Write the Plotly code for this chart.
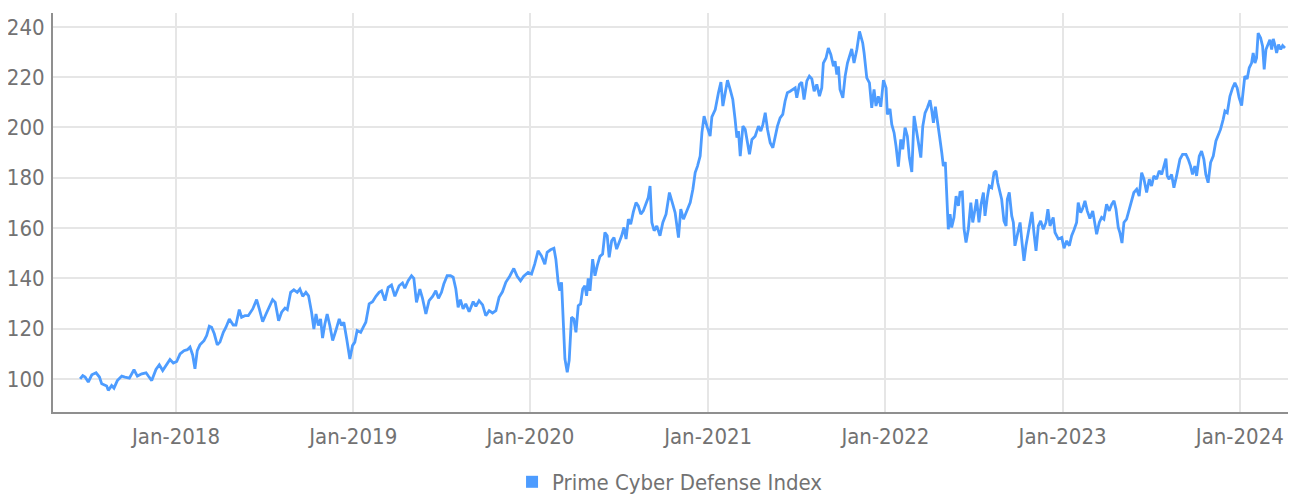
import numpy as np
import pandas as pd
import plotly.graph_objects as go

series_name = "Prime Cyber Defense Index"

# decimal-year positions
t_years = [
    2017.459, 2017.474, 2017.487, 2017.505, 2017.525, 2017.549, 2017.568, 2017.581, 2017.609, 2017.618,
    2017.637, 2017.650, 2017.669, 2017.694, 2017.712, 2017.737, 2017.763, 2017.782, 2017.807, 2017.831,
    2017.844, 2017.863, 2017.887, 2017.906, 2017.925, 2017.951, 2017.966, 2017.985, 2018.004, 2018.023,
    2018.045, 2018.064, 2018.079, 2018.094, 2018.107, 2018.120, 2018.135, 2018.158, 2018.173, 2018.188,
    2018.201, 2018.216, 2018.233, 2018.248, 2018.267, 2018.282, 2018.301, 2018.323, 2018.338, 2018.357,
    2018.370, 2018.389, 2018.408,
    2018.433, 2018.455, 2018.470, 2018.489, 2018.508, 2018.526, 2018.545, 2018.560, 2018.579, 2018.596,
    2018.615, 2018.628, 2018.647, 2018.665, 2018.684, 2018.699, 2018.715, 2018.733, 2018.748, 2018.765,
    2018.778, 2018.790, 2018.803, 2018.816, 2018.827, 2018.840, 2018.853, 2018.868, 2018.884, 2018.902,
    2018.921, 2018.934, 2018.947, 2018.963, 2018.976, 2018.981, 2018.996, 2019.009, 2019.022, 2019.042,
    2019.056, 2019.071, 2019.090, 2019.109, 2019.128, 2019.146, 2019.160, 2019.179, 2019.197, 2019.216,
    2019.235, 2019.259, 2019.278, 2019.291, 2019.310, 2019.329, 2019.342, 2019.357, 2019.376, 2019.391,
    2019.410, 2019.428, 2019.448, 2019.466, 2019.481, 2019.498, 2019.511, 2019.530, 2019.549,
    2019.564, 2019.579, 2019.592, 2019.605, 2019.620, 2019.635, 2019.654, 2019.677, 2019.692, 2019.710,
    2019.730, 2019.748, 2019.767, 2019.786, 2019.805, 2019.823, 2019.842, 2019.861, 2019.883, 2019.906,
    2019.925, 2019.944, 2019.962, 2019.987, 2020.006, 2020.024, 2020.043, 2020.062, 2020.081, 2020.094,
    2020.113, 2020.132, 2020.143, 2020.156, 2020.165, 2020.175, 2020.184, 2020.194, 2020.207, 2020.218,
    2020.231, 2020.244, 2020.256, 2020.269, 2020.282, 2020.294, 2020.306, 2020.316, 2020.325, 2020.335,
    2020.350, 2020.363, 2020.376, 2020.391, 2020.406, 2020.419, 2020.432, 2020.443, 2020.457, 2020.470,
    2020.485, 2020.500, 2020.513, 2020.526, 2020.538, 2020.551, 2020.564, 2020.579, 2020.594, 2020.607,
    2020.621, 2020.635, 2020.650, 2020.663, 2020.673,
    2020.683, 2020.696, 2020.711, 2020.729, 2020.745, 2020.763, 2020.782, 2020.801, 2020.814, 2020.833,
    2020.846, 2020.861, 2020.880, 2020.899, 2020.914, 2020.927, 2020.940, 2020.955, 2020.965, 2020.977,
    2020.993, 2021.011, 2021.021, 2021.040, 2021.058, 2021.072, 2021.083, 2021.096, 2021.109, 2021.124,
    2021.139, 2021.152, 2021.162, 2021.171, 2021.181, 2021.196, 2021.209, 2021.222, 2021.233, 2021.247,
    2021.265, 2021.284, 2021.297, 2021.309, 2021.322, 2021.335, 2021.350, 2021.365, 2021.378, 2021.391,
    2021.406, 2021.421, 2021.434, 2021.447, 2021.463, 2021.478, 2021.491, 2021.500, 2021.515, 2021.528,
    2021.541, 2021.557, 2021.571, 2021.585, 2021.598, 2021.613, 2021.628, 2021.641, 2021.650, 2021.665,
    2021.678, 2021.692, 2021.707, 2021.716, 2021.726, 2021.735, 2021.744, 2021.760, 2021.773, 2021.786,
    2021.797, 2021.810, 2021.823, 2021.839, 2021.854, 2021.872, 2021.880, 2021.895, 2021.910, 2021.923,
    2021.936, 2021.947, 2021.960, 2021.974, 2021.989, 2022.004, 2022.011, 2022.026, 2022.036, 2022.049,
    2022.060, 2022.073, 2022.087, 2022.098, 2022.111, 2022.124, 2022.135, 2022.149, 2022.162, 2022.173,
    2022.186, 2022.200, 2022.211, 2022.224, 2022.237, 2022.252, 2022.262, 2022.271, 2022.282, 2022.293,
    2022.305, 2022.318, 2022.327, 2022.338, 2022.346, 2022.355, 2022.365, 2022.374, 2022.387, 2022.399,
    2022.412, 2022.421, 2022.434, 2022.444, 2022.455, 2022.468, 2022.482, 2022.493, 2022.506, 2022.515,
    2022.528, 2022.540, 2022.553, 2022.562, 2022.575, 2022.586, 2022.600, 2022.613, 2022.624, 2022.634,
    2022.647, 2022.656, 2022.669, 2022.681, 2022.688, 2022.699, 2022.713, 2022.722, 2022.731, 2022.744,
    2022.760, 2022.771, 2022.782, 2022.793, 2022.806, 2022.816, 2022.827, 2022.838, 2022.850, 2022.863,
    2022.876, 2022.891, 2022.906, 2022.917,
    2022.929, 2022.947, 2022.957, 2022.976, 2022.995, 2023.008, 2023.023, 2023.038, 2023.051, 2023.064,
    2023.079, 2023.088, 2023.102, 2023.113, 2023.126, 2023.139, 2023.154, 2023.170, 2023.182, 2023.192,
    2023.207, 2023.220, 2023.233, 2023.248, 2023.263, 2023.277, 2023.290, 2023.301, 2023.314, 2023.323,
    2023.335, 2023.346, 2023.361, 2023.376, 2023.389, 2023.402, 2023.418, 2023.432, 2023.446, 2023.459,
    2023.474, 2023.489, 2023.502, 2023.515, 2023.530, 2023.545, 2023.559, 2023.572, 2023.583, 2023.590,
    2023.601, 2023.615, 2023.628, 2023.643, 2023.662, 2023.677, 2023.696, 2023.709, 2023.722, 2023.733,
    2023.746, 2023.756, 2023.771, 2023.784, 2023.797, 2023.808, 2023.821, 2023.835, 2023.850, 2023.865,
    2023.878, 2023.891, 2023.906, 2023.916, 2023.929, 2023.944, 2023.959, 2023.972, 2023.985, 2023.996,
    2024.010, 2024.019, 2024.028, 2024.041, 2024.053, 2024.066, 2024.075, 2024.085, 2024.094, 2024.103,
    2024.117, 2024.128, 2024.137, 2024.147, 2024.160, 2024.169, 2024.179, 2024.188, 2024.199, 2024.207,
    2024.218, 2024.230, 2024.241, 2024.254,
]

index_values = [
    100.0, 101.3, 100.7, 98.7, 101.6, 102.4, 100.7, 98.0, 97.1, 95.4,
    97.3, 96.3, 99.3, 101.1, 100.7, 100.3, 103.6, 101.1, 102.0, 102.4,
    101.1, 99.3, 103.7, 105.6, 103.3, 106.0, 107.7, 106.3, 106.9, 109.9,
    111.2, 111.6, 112.6, 109.5, 104.0, 111.2, 113.5, 115.2, 117.2, 120.9,
    120.5, 117.9, 113.5, 114.6, 118.5, 120.5, 123.8, 121.4, 121.4, 127.5,
    124.5, 125.1, 125.1,
    127.8, 131.5, 127.8, 122.7, 125.8, 128.4, 131.5, 130.4, 123.1, 126.5,
    128.1, 127.5, 134.4, 135.4, 134.4, 135.7, 132.8, 134.4, 133.0, 126.5,
    119.8, 125.8, 121.2, 123.8, 116.2, 121.8, 125.8, 121.2, 115.2, 119.2,
    123.8, 121.2, 122.5, 115.9, 109.2, 107.9, 113.2, 114.6, 119.2, 118.5,
    120.5, 122.5, 129.8, 130.7, 132.8, 134.4, 135.0, 131.1, 136.4, 137.3,
    132.8, 137.0, 138.1, 136.0, 139.0, 141.0, 140.0, 130.4, 135.7, 132.0,
    125.8, 131.1, 132.8, 135.0, 132.0, 134.4, 137.7, 141.0, 141.0,
    140.4, 135.7, 128.4, 131.5, 127.8, 129.8, 126.7, 130.7, 128.8, 131.1,
    129.4, 125.1, 127.1, 126.2, 127.1, 132.4, 134.6, 138.4, 140.8, 143.9,
    140.8, 139.0, 140.8, 142.3, 141.7, 145.6, 150.9, 148.9, 145.6, 150.3,
    151.3, 151.9, 147.6, 138.4, 135.0, 138.4, 125.1, 107.9, 102.6, 107.3,
    124.5, 123.8, 118.5, 129.1, 129.8, 135.7, 137.0, 133.0, 139.9, 135.0,
    147.6, 141.0, 145.0, 148.7, 149.6, 158.2, 156.9, 148.3, 154.9, 156.2,
    151.6, 154.2, 156.9, 160.2, 155.6, 163.5, 161.5, 166.4, 170.1, 168.8,
    165.5, 166.8, 170.1, 172.1, 176.7,
    162.2, 158.9, 160.8, 156.9, 162.2, 165.5, 174.1, 169.4, 166.1, 156.2,
    167.5, 163.5, 166.8, 170.1, 175.4, 182.0, 184.6, 188.6, 197.9, 204.5,
    200.5, 196.5, 204.2, 207.1, 213.8, 218.0, 208.5, 213.8, 218.8, 215.1,
    211.1, 203.2, 195.9, 198.5, 188.6, 200.5, 199.2, 193.9, 189.3, 195.2,
    196.5, 200.5, 198.5, 201.2, 205.8, 199.2, 193.9, 191.9, 196.5, 200.5,
    203.8, 205.2, 210.4, 213.8, 214.4, 215.1, 215.7, 211.8, 217.1, 218.0,
    211.1, 218.5, 220.4, 219.3, 214.4, 217.1, 212.4, 215.7, 225.6, 227.6,
    231.6, 229.0, 224.3, 226.3, 221.0, 224.3, 215.1, 211.8, 220.4, 225.6,
    228.3, 231.2, 225.6, 231.0, 238.2, 233.6, 229.6, 219.7, 217.7, 207.8,
    215.1, 208.5, 212.4, 208.2, 218.8, 215.7, 205.2, 207.4, 201.2, 197.9,
    192.6, 184.4, 195.2, 191.3, 199.9, 196.5, 188.0, 182.3, 204.5, 199.2,
    193.3, 188.0, 200.5, 205.8, 207.8, 210.8, 206.5, 201.8, 208.2, 201.8,
    196.8, 190.0, 184.6, 186.2, 175.4, 159.5, 165.5, 160.2, 164.2, 172.7,
    168.8, 174.1, 174.3, 159.5, 154.2, 159.5, 170.1, 162.2, 167.5, 171.4,
    162.2, 169.4, 174.1, 164.8, 172.1, 176.7, 176.0, 182.0, 182.7, 178.0,
    174.1, 171.4, 162.8, 160.8, 171.4, 174.1, 164.8, 162.2, 152.9, 156.9,
    162.2, 154.2, 146.9, 152.9, 158.2, 162.8, 166.4, 158.2, 150.9, 160.8,
    162.8, 159.5, 162.2, 167.5,
    160.8, 164.2, 158.2, 155.6, 156.2, 151.9, 154.9, 152.9, 156.9, 159.2,
    162.2, 170.1, 166.1, 167.7, 170.8, 166.8, 163.8, 166.8, 161.5, 157.5,
    162.2, 164.2, 163.5, 169.4, 166.8, 169.4, 170.8, 167.5, 160.2, 158.2,
    154.0, 162.2, 163.5, 167.5, 170.1, 174.1, 175.4, 172.7, 182.0, 179.4,
    174.1, 179.4, 176.7, 180.7, 179.4, 182.7, 181.3, 184.6, 187.6, 180.7,
    179.4, 181.3, 176.0, 180.7, 187.3, 189.3, 189.3, 187.3, 184.6, 181.3,
    184.6, 180.7, 188.6, 190.6, 187.3, 181.3, 178.0, 186.0, 188.6, 194.6,
    197.2, 199.2, 203.2, 206.5, 205.8, 212.4, 215.7, 217.7, 215.7, 211.8,
    208.7, 215.1, 220.4, 219.3, 223.7, 225.6, 229.6, 225.6, 227.6, 237.5,
    235.6, 232.3, 223.1, 231.0, 233.6, 234.9, 231.0, 235.2, 232.3, 229.6,
    232.9, 231.0, 232.5, 231.6,
]

y_ticks = [100, 120, 140, 160, 180, 200, 220, 240]
x_range_years = [2017.306, 2024.316]
y_range = [86.8, 245.5]


def to_date(t):
    y = int(np.floor(t))
    start = pd.Timestamp(year=y, month=1, day=1)
    end = pd.Timestamp(year=y + 1, month=1, day=1)
    return start + (end - start) * (t - y)


dates = [to_date(t) for t in t_years]

LINE = "#4d9cff"
FONT = "DejaVu Sans Condensed, Liberation Sans Narrow, sans-serif"
TXT = "#727272"
FS = 22

fig = go.Figure()
fig.add_trace(go.Scatter(
    x=dates, y=index_values, mode="lines", name=series_name,
    line=dict(color=LINE, width=2.8), showlegend=False,
))
# legend entry with a square key
fig.add_trace(go.Scatter(
    x=[None], y=[None], mode="markers", name=series_name,
    marker=dict(symbol="square", size=12, color=LINE), showlegend=True,
))

# the page body has an 8px default margin; margins are offset to compensate
fig.update_layout(
    width=1288, height=495,
    margin=dict(l=45, r=0, t=5, b=90),
    paper_bgcolor="white", plot_bgcolor="white",
    font=dict(family=FONT, size=FS, color=TXT),
    legend=dict(orientation="h", x=0.3693, xanchor="left", y=-0.175, yanchor="middle",
                font=dict(family=FONT, size=FS, color=TXT), itemwidth=30),
)
fig.update_xaxes(
    type="date", automargin=False,
    range=[to_date(x_range_years[0]), to_date(x_range_years[1])],
    tick0="2018-01-01", dtick="M12", tickformat="%b-%Y",
    showgrid=True, gridcolor="#e6e6e6", gridwidth=2,
    showline=True, linecolor="#8f8f8f", linewidth=2,
    ticks="outside", ticklen=4, tickcolor="rgba(0,0,0,0)",
    tickfont=dict(family=FONT, size=FS, color=TXT),
    zeroline=False,
)
fig.update_yaxes(
    range=y_range, tickvals=y_ticks, automargin=False,
    showgrid=True, gridcolor="#e6e6e6", gridwidth=2,
    showline=True, linecolor="#8f8f8f", linewidth=2,
    ticks="outside", ticklen=2, tickcolor="rgba(0,0,0,0)",
    tickfont=dict(family=FONT, size=FS, color=TXT),
    zeroline=False,
)

fig.write_html("out.html")
